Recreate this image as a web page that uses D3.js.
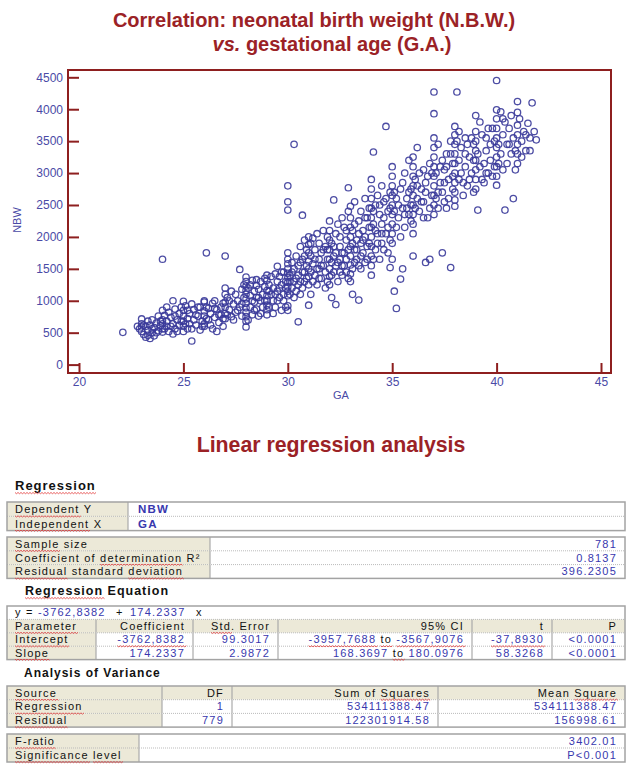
<!DOCTYPE html>
<html>
<head>
<meta charset="utf-8">
<script src="https://cdn.jsdelivr.net/npm/d3@7"></script>
<style>
  body { margin: 0; background: #fff; }
  svg { display: block; }
  .title { font: bold 20px "Liberation Sans", Arial, sans-serif; fill: #9b2226; }
  .cell { font: 11px "Liberation Sans", Arial, sans-serif; letter-spacing: 1.2px; }
  .head { font: bold 12px "Liberation Sans", Arial, sans-serif; letter-spacing: 1px; fill: #111; }
</style>
</head>
<body>
<script>
var width = 626;
var height = 771;

// scatter values: [GA (weeks), NBW (g)]
var early = [
  [22.1,505],[22.8,600],[22.9,560],[23.0,715],[23.0,640],[23.0,590],[23.0,520],[23.1,470],[23.2,430],[23.2,600],
  [23.3,680],[23.3,540],[23.4,410],[23.4,620],[23.5,500],[23.5,700],[23.6,580],[23.6,450],[23.7,650],[23.8,530],
  [23.8,760],[23.9,610],[24.0,850],[24.0,700],[24.0,640],[24.0,560],[24.0,510],[24.0,1650],[24.1,770],[24.2,600],
  [24.2,680],[24.3,520],[24.3,820],[24.4,740],[24.5,1000],[24.5,640],[24.5,480],[24.6,870],[24.6,560],[24.7,700],
  [24.8,800],[24.8,620],[24.9,900],[25.0,990],[25.0,850],[25.0,760],[25.0,680],[25.0,600],[25.0,520],[25.1,920],
  [25.2,720],[25.2,560],[25.3,800],[25.3,640],[25.4,370],[25.4,950],[25.5,700],[25.5,860],[25.6,620],[25.7,760],
  [25.8,900],[25.8,540],[25.9,680],[26.0,1000],[26.0,980],[26.0,840],[26.0,760],[26.0,640],[26.0,600],[26.1,1750],
  [26.1,900],[26.2,700],[26.3,800],[26.4,560],[26.4,960],[26.5,1000],[26.5,740],[26.6,860],[26.6,520],[26.7,660],
  [26.8,900],[26.8,780],[26.9,600],
  [23.1,620],[23.3,460],[23.5,560],[23.7,500],[23.9,680],[24.1,560],[24.2,900],[24.4,600],[24.6,760],[24.7,520],
  [24.9,680],[25.1,640],[25.2,850],[25.4,560],[25.6,780],[25.7,900],[25.9,600],[26.1,720],[26.2,880],[26.3,620],
  [26.5,880],[26.7,780],[26.9,720],[26.9,960]
];
var wk27to29 = [
  [27.0,1200],[27.0,1100],[27.0,980],[27.0,900],[27.0,800],[27.0,720],[27.0,1700],[27.1,1050],[27.2,860],[27.3,1150],
  [27.3,750],[27.4,950],[27.5,1100],[27.5,820],[27.6,1000],[27.7,1490],[27.7,900],[27.8,1180],[27.8,760],[27.9,1050],
  [28.0,1370],[28.0,1300],[28.0,1230],[28.0,1160],[28.0,1100],[28.0,1030],[28.0,960],[28.0,890],[28.0,820],[28.0,750],
  [28.0,680],[28.0,590],[28.1,1200],[28.2,1080],[28.2,900],[28.3,1320],[28.3,780],[28.4,1150],[28.4,980],[28.5,1330],
  [28.5,1240],[28.5,1050],[28.5,870],[28.6,1180],[28.6,760],[28.7,1000],[28.7,1300],[28.8,1100],[28.8,900],[28.9,1220],
  [29.0,1400],[29.0,1320],[29.0,1160],[29.0,1080],[29.0,1000],[29.0,930],[29.0,860],[29.0,780],[29.1,1250],[29.2,1380],
  [29.2,1100],[29.3,1000],[29.3,1200],[29.4,1420],[29.4,900],[29.5,1540],[29.5,1300],[29.5,1150],[29.6,1050],[29.6,1380],
  [29.7,1250],[29.7,850],[29.8,1450],[29.8,1100],[29.9,1300],
  [27.1,780],[27.2,1000],[27.4,700],[27.6,850],[27.8,950],[27.9,1250],[28.1,700],[28.2,1250],[28.3,1000],[28.4,850],
  [28.6,1050],[28.7,800],[28.9,1000],[28.9,1350],[29.1,900],[29.1,1150],[29.3,800],[29.4,1100],[29.5,1000],[29.6,1200],
  [29.7,1450],[29.8,1000],[29.9,900],[29.9,1200]
];
var wk30to31 = [
  [30.0,1750],[30.0,1650],[30.0,1580],[30.0,1500],[30.0,1430],[30.0,1360],[30.0,1290],[30.0,1220],[30.0,1150],[30.0,1080],
  [30.0,920],[30.0,850],[30.0,2800],[30.0,2550],[30.0,2420],[30.1,1400],[30.2,1600],[30.2,1200],[30.3,3450],[30.3,1500],
  [30.3,1050],[30.4,1700],[30.4,1350],[30.5,1250],[30.5,1550],[30.5,670],[30.6,1850],[30.6,1100],[30.7,2340],[30.7,1450],
  [30.7,1650],[30.8,1950],[30.8,1300],[30.9,1800],[30.9,1550],[31.0,2000],[31.0,1880],[31.0,1750],[31.0,1620],[31.0,1500],
  [31.0,1380],[31.0,1250],[31.0,930],[31.1,1700],[31.1,1100],[31.2,1580],[31.2,1980],[31.3,1400],[31.3,1800],[31.4,2050],
  [31.4,1250],[31.5,1650],[31.5,1900],[31.5,1500],[31.6,1350],[31.6,1750],[31.7,2100],[31.7,1550],[31.8,1200],[31.8,1850],
  [31.9,1650],[31.9,2000],
  [30.1,1300],[30.1,1100],[30.2,1450],[30.3,1300],[30.4,1150],[30.5,1400],[30.6,1600],[30.6,1300],[30.7,1200],[30.8,1700],
  [30.8,1450],[30.9,1350],[31.1,1450],[31.1,1900],[31.2,1300],[31.3,1650],[31.4,1500],[31.5,1350],[31.6,1550],[31.7,1800],
  [31.8,1450],[31.9,1300],[31.9,1800]
];
var wk32to33 = [
  [32.0,2250],[32.0,2100],[32.0,1950],[32.0,1800],[32.0,1650],[32.0,1500],[32.0,1380],[32.0,1250],[32.1,1050],[32.1,1900],
  [32.2,2580],[32.2,1700],[32.2,1450],[32.3,940],[32.3,2050],[32.4,2200],[32.4,1600],[32.4,1300],[32.5,1850],[32.5,2000],
  [32.6,1550],[32.6,2300],[32.6,1400],[32.7,1750],[32.7,2150],[32.8,1950],[32.8,1650],[32.9,2770],[32.9,2400],[32.9,1350],
  [33.0,2480],[33.0,2300],[33.0,2150],[33.0,2000],[33.0,1850],[33.0,1700],[33.0,1560],[33.0,1420],[33.0,1300],[33.1,1100],
  [33.1,2100],[33.2,1800],[33.2,2550],[33.3,1950],[33.3,1650],[33.4,1010],[33.4,2250],[33.5,2400],[33.5,1900],[33.5,1500],
  [33.6,2100],[33.6,1750],[33.7,2600],[33.7,2000],[33.7,1600],[33.8,2300],[33.8,1850],[33.9,2150],[33.9,2450],
  [32.1,1400],[32.1,1600],[32.2,1850],[32.3,1550],[32.3,1750],[32.5,1450],[32.5,1650],[32.6,1750],[32.7,1550],[32.8,1450],
  [32.8,2100],[32.9,1800],[33.1,1500],[33.1,1900],[33.2,1600],[33.2,2200],[33.3,1800],[33.4,1550],[33.4,2050],[33.5,1700],
  [33.6,1950],[33.7,2300],[33.8,1650],[33.9,1900]
];
var wk34to35 = [
  [34.0,2900],[34.0,2750],[34.0,2600],[34.0,2450],[34.0,2300],[34.0,2150],[34.0,2000],[34.0,1850],[34.0,1700],[34.0,1550],
  [34.0,1400],[34.1,3330],[34.1,2200],[34.2,2500],[34.2,1800],[34.3,2650],[34.3,2050],[34.4,1650],[34.4,2350],[34.5,2800],
  [34.5,2200],[34.5,1900],[34.6,2550],[34.7,3730],[34.7,2050],[34.8,2400],[34.8,1750],[34.9,1520],[34.9,2700],[35.0,3100],
  [35.0,2950],[35.0,2800],[35.0,2650],[35.0,2500],[35.0,2350],[35.0,2200],[35.0,2050],[35.0,1900],[35.0,1650],[35.1,1150],
  [35.2,880],[35.2,2600],[35.3,2300],[35.4,1340],[35.4,2750],[35.5,2450],[35.5,1500],[35.6,2150],[35.6,3000],[35.7,2600],
  [35.8,2350],[35.8,3200],[35.9,2750],[35.9,2500],
  [34.1,1650],[34.1,2400],[34.2,2100],[34.3,1900],[34.4,2500],[34.5,2050],[34.6,2300],[34.6,1800],[34.7,2600],[34.8,2150],
  [34.9,2450],[34.9,1950],[35.1,2400],[35.1,2700],[35.2,2150],[35.3,2500],[35.4,2000],[35.5,2850],[35.6,2350],[35.7,2450],
  [35.8,2700],[35.9,2250]
];
var wk36to37 = [
  [36.0,3250],[36.0,3100],[36.0,2950],[36.0,2800],[36.0,2650],[36.0,2500],[36.0,2350],[36.0,2200],[36.0,2050],[36.0,1700],
  [36.1,2900],[36.2,2600],[36.2,3400],[36.3,2400],[36.4,2750],[36.5,3050],[36.5,2550],[36.6,1600],[36.6,2850],[36.7,2300],
  [36.8,1650],[36.8,3150],[36.9,2650],[37.0,4270],[37.0,3930],[37.0,3550],[37.0,3400],[37.0,3250],[37.0,3100],[37.0,2950],
  [37.0,2800],[37.0,2650],[37.0,2500],[37.0,2350],[37.1,3000],[37.2,2700],[37.2,3450],[37.3,2850],[37.4,1750],[37.4,3200],
  [37.5,2550],[37.5,3050],[37.6,3300],[37.6,2450],[37.7,2900],[37.8,1520],[37.8,3500],[37.9,2750],[37.9,3150],
  [36.1,2450],[36.2,2800],[36.3,3000],[36.4,2550],[36.5,2300],[36.6,2700],[36.7,2950],[36.8,2450],[36.9,3000],[37.1,2600],
  [37.2,2450],[37.3,3100],[37.4,2700],[37.5,2850],[37.6,3100],[37.7,2600],[37.8,3300],[37.9,2950]
];
var wk38to39 = [
  [38.0,3730],[38.0,3600],[38.0,3450],[38.0,3300],[38.0,3150],[38.0,3000],[38.0,2850],[38.0,2700],[38.0,2580],[38.0,2480],
  [38.1,4270],[38.2,3200],[38.2,2900],[38.3,3400],[38.4,2650],[38.5,3100],[38.5,3550],[38.6,2800],[38.7,3250],[38.8,3000],
  [38.9,3450],[38.9,2700],[39.0,3900],[39.0,3650],[39.0,3500],[39.0,3350],[39.0,3200],[39.0,3050],[39.0,2900],[39.0,2750],
  [39.1,2420],[39.2,3100],[39.3,3600],[39.4,2850],[39.5,3350],[39.5,3000],[39.6,3700],[39.7,3200],[39.8,2950],[39.9,3500],
  [38.1,3500],[38.2,3650],[38.3,3000],[38.4,2850],[38.5,3300],[38.6,3450],[38.7,2900],[38.8,3550],[38.9,3200],[39.1,3300],
  [39.2,3800],[39.3,2900],[39.4,3150],[39.5,3550],[39.6,3000],[39.7,3450],[39.8,3700],[39.9,3100]
];
var wk40to42 = [
  [40.0,4450],[40.0,3990],[40.0,3850],[40.0,3700],[40.0,3550],[40.0,3400],[40.0,3250],[40.0,3100],[40.0,2950],[40.0,2810],
  [40.2,3960],[40.2,3300],[40.3,3600],[40.4,2420],[40.4,3800],[40.5,3150],[40.5,3450],[40.6,3700],[40.7,3300],[40.8,2600],
  [40.8,3550],[40.9,3050],[41.0,4120],[41.0,3950],[41.0,3750],[41.0,3600],[41.0,3450],[41.0,3300],[41.0,3150],[41.2,3500],
  [41.3,3650],[41.4,3350],[41.5,3780],[41.6,3550],[41.7,4100],[41.9,3520],
  [40.1,3450],[40.1,3150],[40.3,3850],[40.3,3050],[40.6,3450],[40.7,3900],[40.9,3350],[41.1,3850],[41.2,3250],[41.4,3600],
  [41.6,3350],[41.8,3650]
];

var gaTicks = [20, 25, 30, 35, 40, 45];
var nbwTicks = [0, 500, 1000, 1500, 2000, 2500, 3000, 3500, 4000, 4500];

// regression output tables
var depRows = [['Dependent Y', 'NBW'], ['Independent X', 'GA']];
var sampleRows = [['Sample size', '781'], ['Coefficient of determination R\u00b2', '0.8137'], ['Residual standard deviation', '396.2305']];
var eqIntercept = '-3762,8382';
var eqSlope = '174.2337';
var coefHeader = ['Parameter', 'Coefficient', 'Std. Error', '95% CI', 't', 'P'];
var coefRows = [
  ['Intercept', '-3762,8382', '99.3017', '-3957,7688 to -3567,9076', '-37,8930', '<0.0001'],
  ['Slope', '174.2337', '2.9872', '168.3697 to 180.0976', '58.3268', '<0.0001']
];
var anovaHeader = ['Source', 'DF', 'Sum of Squares', 'Mean Square'];
var anovaRows = [['Regression', '1', '534111388.47', '534111388.47'], ['Residual', '779', '122301914.58', '156998.61']];
var fRows = [['F-ratio', '3402.01'], ['Significance level', 'P<0.001']];

// words the word processor flagged
var flagged = ['Regression', 'Dependent', 'Independent', 'Sample', 'determination', 'Residual', 'deviation',
  '-3762,8382', 'Parameter', 'Intercept', 'Slope', 'Std', '-3957,7688', '-3567,9076', '-37,8930', 'to',
  'Source', 'Squares', 'Square', 'F-ratio', 'Significance', 'level'];

var frameRed = '#8e1f1f';
var axisBlue = '#4a4aa6';
var dotBlue = '#3a3a9a';
var valBlue = '#3838ae';
var beige = '#ece9d8';

var svg = d3.select('body').append('svg')
  .attr('width', width)
  .attr('height', height);

// titles
svg.append('text').attr('class', 'title')
  .attr('x', 314).attr('y', 27).attr('text-anchor', 'middle')
  .text('Correlation: neonatal birth weight (N.B.W.)');
var t2 = svg.append('text').attr('class', 'title')
  .attr('x', 332).attr('y', 51).attr('text-anchor', 'middle');
t2.append('tspan').attr('font-style', 'italic').text('vs.');
t2.append('tspan').text(' gestational age (G.A.)');

// scatter
var x = d3.scaleLinear().domain([20, 45]).range([79, 601]);
var y = d3.scaleLinear().domain([0, 4500]).range([364.6, 77.3]);

var points = [].concat(early, wk27to29, wk30to31, wk32to33, wk34to35, wk36to37, wk38to39, wk40to42);

svg.append('g').selectAll('circle')
  .data(points)
  .join('circle')
  .attr('cx', function (d) { return x(d[0]); })
  .attr('cy', function (d) { return y(d[1]); })
  .attr('r', 3.2)
  .attr('fill', 'none')
  .attr('stroke', dotBlue)
  .attr('stroke-width', 1.3)
  .attr('stroke-opacity', 0.9);

var gy = svg.append('g')
  .attr('transform', 'translate(68,0)')
  .call(d3.axisLeft(y).tickValues(nbwTicks).tickFormat(d3.format('d')).tickSize(-11).tickPadding(5));
var gx = svg.append('g')
  .attr('transform', 'translate(0,373)')
  .call(d3.axisBottom(x).tickValues(gaTicks).tickSize(-10).tickPadding(4));
[gy, gx].forEach(function (g) {
  g.select('.domain').remove();
  g.attr('font-family', '"Liberation Sans", Arial, sans-serif').attr('font-size', 12);
  g.selectAll('line').attr('stroke', frameRed).attr('stroke-width', 2);
  g.selectAll('text').attr('fill', axisBlue);
});

svg.append('rect')
  .attr('x', 68).attr('y', 70).attr('width', 543).attr('height', 303)
  .attr('fill', 'none').attr('stroke', frameRed).attr('stroke-width', 2);

svg.append('text')
  .attr('transform', 'translate(21,220) rotate(-90)')
  .attr('text-anchor', 'middle')
  .attr('font-family', '"Liberation Sans", Arial, sans-serif').attr('font-size', 11)
  .attr('fill', axisBlue).text('NBW');
svg.append('text')
  .attr('x', 341).attr('y', 399).attr('text-anchor', 'middle')
  .attr('font-family', '"Liberation Sans", Arial, sans-serif').attr('font-size', 11)
  .attr('fill', axisBlue).text('GA');

svg.append('text').attr('class', 'title')
  .attr('x', 331).attr('y', 452).attr('text-anchor', 'middle')
  .style('font-size', '21.3px')
  .text('Linear regression analysis');

// tables
function heading(txt, tx, ty, size) {
  svg.append('text').attr('class', 'head').attr('x', tx).attr('y', ty)
    .style('font-size', size + 'px').text(txt);
}

function drawTable(top, rowH, edges, rows) {
  var g = svg.append('g');
  rows.forEach(function (row, i) {
    var e = row.edges || edges;
    var y0 = top + i * rowH;
    row.cells.forEach(function (c, j) {
      var x0 = e[j], x1 = e[j + 1];
      g.append('rect').attr('x', x0).attr('y', y0)
        .attr('width', x1 - x0).attr('height', rowH).attr('fill', c.bg);
      if (j > 0) {
        g.append('line').attr('x1', x0).attr('x2', x0).attr('y1', y0).attr('y2', y0 + rowH)
          .attr('stroke', '#aaa').attr('stroke-width', 1.2);
      }
      var t = g.append('text').attr('class', 'cell')
        .attr('x', c.a === 'end' ? x1 - 8 : x0 + c.pad)
        .attr('y', y0 + rowH - 3)
        .attr('text-anchor', c.a)
        .attr('fill', c.c);
      if (c.bold) t.style('font-weight', 'bold').style('font-size', '11.5px');
      var bits = c.t.split(' to ');
      bits.forEach(function (b, k) {
        if (k > 0) t.append('tspan').attr('fill', '#111').text(' to ');
        t.append('tspan').text(b);
      });
    });
    if (i > 0) {
      g.append('line').attr('x1', e[0]).attr('x2', e[e.length - 1]).attr('y1', y0).attr('y2', y0)
        .attr('stroke', '#bbb').attr('stroke-width', 1).attr('stroke-dasharray', '1,1');
    }
  });
  var last = edges[edges.length - 1];
  g.append('rect').attr('x', edges[0]).attr('y', top)
    .attr('width', last - edges[0]).attr('height', rows.length * rowH)
    .attr('fill', 'none').attr('stroke', '#a3a3a3').attr('stroke-width', 1.5);
  return g;
}

function label(t) { return { t: t, bg: beige, a: 'start', c: '#111', pad: 8 }; }
function head(t, k) { return { t: t, bg: beige, a: k === 0 ? 'start' : 'end', c: '#111', pad: 8 }; }
function value(t, right) { return { t: t, bg: '#fff', a: right ? 'end' : 'start', c: valBlue, pad: 10 }; }

heading('Regression', 15, 490, 13);
drawTable(502, 14.3, [7, 128, 625], depRows.map(function (r) {
  var v = value(r[1], false); v.bold = true;
  return { cells: [label(r[0]), v] };
}));
drawTable(537, 13.8, [7, 210, 625], sampleRows.map(function (r) {
  return { cells: [label(r[0]), value(r[1], true)] };
}));

heading('Regression Equation', 25, 595, 12.5);
var coefEdges = [7, 96, 193, 278, 472, 552, 625];
var coefTable = [{ edges: [7, 625], cells: [{ t: '', bg: '#fff', a: 'start', c: '#111', pad: 8 }] },
  { cells: coefHeader.map(head) }].concat(coefRows.map(function (r) {
  return { cells: r.map(function (v, k) { return k === 0 ? label(v) : value(v, true); }) };
}));
var ct = drawTable(606, 13.4, coefEdges, coefTable);
var eq = ct.select('text');
[['y =', 15, '#111'], [eqIntercept, 38, valBlue], ['+', 116, '#111'], [eqSlope, 130, valBlue], ['x', 196, '#111']]
  .forEach(function (p) {
    eq.append('tspan').attr('x', p[1]).attr('fill', p[2]).text(p[0]);
  });

heading('Analysis of Variance', 24, 677, 12);
drawTable(686, 13.7, [7, 162, 232, 438, 625], [{ cells: anovaHeader.map(head) }].concat(anovaRows.map(function (r) {
  return { cells: r.map(function (v, k) { return k === 0 ? label(v) : value(v, true); }) };
})));
drawTable(734, 14, [7, 139, 625], fRows.map(function (r) {
  return { cells: [label(r[0]), value(r[1], true)] };
}));

// red wavy spell-check marks
function squiggle(x0, x1, yb) {
  var d = 'M' + x0 + ',' + yb;
  for (var xx = x0, k = 0; xx < x1; xx += 1.5, k++) {
    d += 'L' + (xx + 1.5) + ',' + (yb + (k % 2 ? 0 : 1.2));
  }
  svg.append('path').attr('d', d).attr('fill', 'none')
    .attr('stroke', '#e23a3a').attr('stroke-width', 0.8);
}
svg.selectAll('text.cell, text.head').each(function () {
  var node = this;
  var s = node.textContent;
  var re = /\S+/g, m;
  while ((m = re.exec(s)) !== null) {
    var w = m[0].replace(/\.$/, '');
    if (flagged.indexOf(w) < 0) continue;
    try {
      var a = node.getStartPositionOfChar(m.index);
      var b = node.getEndPositionOfChar(m.index + w.length - 1);
      squiggle(a.x, b.x, a.y + 2.5);
    } catch (e) {}
  }
});
</script>
</body>
</html>
